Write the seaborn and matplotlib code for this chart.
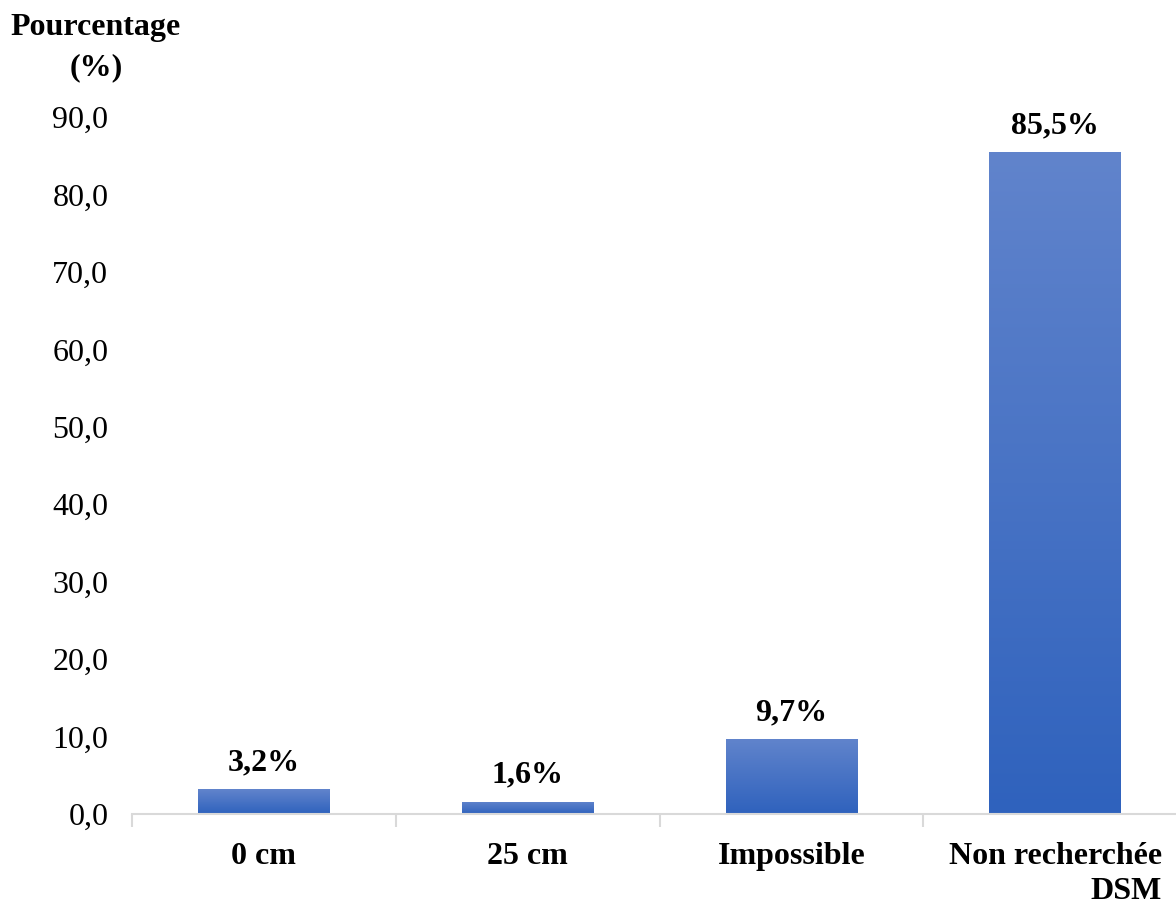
import numpy as np
import matplotlib
matplotlib.use("Agg")
import matplotlib.pyplot as plt
import seaborn as sns
import pandas as pd
from matplotlib.colors import LinearSegmentedColormap

categories = ["0 cm", "25 cm", "Impossible", "Non recherchée\nDSM"]
values = [3.2, 1.6, 9.7, 85.5]
labels = ["3,2%", "1,6%", "9,7%", "85,5%"]
yticks = [0, 10, 20, 30, 40, 50, 60, 70, 80, 90]

sns.set_style("white")
plt.rcParams['font.family'] = ['Liberation Serif', 'DejaVu Serif']
plt.rcParams['text.color'] = 'black'
plt.rcParams['xtick.color'] = 'black'
plt.rcParams['ytick.color'] = 'black'

df = pd.DataFrame({"cat": categories, "val": values})

fig = plt.figure(figsize=(11.76, 9.05), dpi=100)
ax = fig.add_axes([0.1122, 0.1006, 0.8878, 0.7701])

sns.barplot(data=df, x="cat", y="val", color="#4472C4", width=0.5, ax=ax,
            saturation=1)

# gradient fill, lighter at top
cmap = LinearSegmentedColormap.from_list("g", ["#2F62BD", "#6184CC"])
grad = np.linspace(0, 1, 256).reshape(-1, 1)
for p in ax.patches:
    x0, y0 = p.get_x(), p.get_y()
    w, h = p.get_width(), p.get_height()
    im = ax.imshow(grad, cmap=cmap, origin="lower", aspect="auto",
                   extent=[x0, x0 + w, y0, y0 + h], zorder=p.get_zorder() + 0.1)
    im.set_clip_path(p)

for i, v in enumerate(values):
    ax.annotate(labels[i], (i, v), xytext=(0, 13.5), textcoords="offset points",
                ha="center", va="baseline", fontsize=23, fontweight="bold")

ax.set_yticks(yticks)
ax.set_yticklabels([f"{t:.1f}".replace(".", ",") for t in yticks], fontsize=23)
ax.set_xticks(range(len(categories)))
ax.set_xticklabels(categories, fontsize=23, fontweight="bold",
                   multialignment="right", linespacing=1.3)
ax.set_xticks([-0.5, 0.5, 1.5, 2.5, 3.5], minor=True)
# set_xticks widens the view, so limits go after it
ax.set_xlim(-0.5, 3.457)
ax.set_ylim(0, 90)
ax.tick_params(axis="x", which="major", length=0, pad=20)
ax.tick_params(axis="x", which="minor", bottom=True, length=9, width=1.5,
               color="#D9D9D9", direction="out")
ax.tick_params(axis="y", length=0, pad=17)
ax.set_xlabel("")
ax.set_ylabel("")

for s in ["top", "right", "left"]:
    ax.spines[s].set_visible(False)
ax.spines["bottom"].set_color("#D9D9D9")
ax.spines["bottom"].set_linewidth(1.5)

fig.text(96 / 1176, 1 - 48 / 905, "Pourcentage\n(%)", ha="center", va="center",
         fontsize=23, fontweight="bold", linespacing=1.5)

fig.savefig("out.png", dpi=100)
